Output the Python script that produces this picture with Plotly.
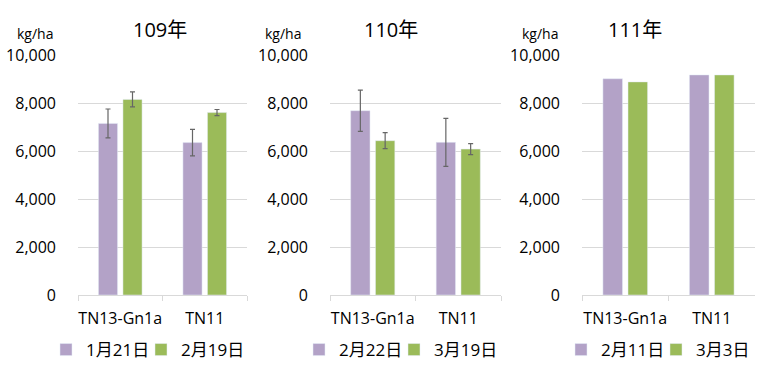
import plotly.graph_objects as go

categories = ["TN13-Gn1a", "TN11"]
years = ["109年", "110年", "111年"]
dates_a = ["1月21日", "2月22日", "2月11日"]
dates_b = ["2月19日", "3月19日", "3月3日"]
vals_a = [[7150, 6350], [7680, 6360], [9010, 9170]]
vals_b = [[8150, 7600], [6430, 6080], [8880, 9170]]
err_a = [[600, 550], [860, 1000], None]
err_b = [[310, 130], [335, 230], None]

PURPLE = "#b3a2c7"
GREEN = "#9bbb59"
FONT = "Open Sans, Noto Sans CJK TC, sans-serif"
W, H = 768, 372

xdom = [(78, 247), (330, 501), (582, 755)]
ytop, ybot = 55, 295
title_x = [160, 391, 635]
unit_x = [35, 283, 540]
legend_text_a = [87, 340, 602]
legend_text_b = [182, 435, 697]
TXT_OFF = 41

fig = go.Figure()
for i in range(3):
    xa = "x" if i == 0 else f"x{i+1}"
    ya = "y" if i == 0 else f"y{i+1}"
    lga = "legend" if i == 0 else f"legend{2*i+1}"
    lgb = f"legend{2*i+2}"
    ea = dict(type="data", array=err_a[i], color="#666666", thickness=1.2, width=2.5, visible=True) if err_a[i] else None
    eb = dict(type="data", array=err_b[i], color="#666666", thickness=1.2, width=2.5, visible=True) if err_b[i] else None
    fig.add_trace(go.Bar(x=categories, y=vals_a[i], name=dates_a[i], marker_color=PURPLE,
                         error_y=ea, xaxis=xa, yaxis=ya, legend=lga))
    fig.add_trace(go.Bar(x=categories, y=vals_b[i], name=dates_b[i], marker_color=GREEN,
                         error_y=eb, xaxis=xa, yaxis=ya, legend=lgb))

layout = dict(
    width=W, height=H, margin=dict(l=0, r=0, t=0, b=0, autoexpand=False),
    paper_bgcolor="white", plot_bgcolor="white",
    barmode="group", bargap=0.42, bargroupgap=0.22,
    font=dict(family=FONT, size=15, color="#000000"),
    showlegend=True,
)
annotations = []
for i in range(3):
    sfx = "" if i == 0 else str(i + 1)
    x0, x1 = xdom[i]
    layout["xaxis" + sfx] = dict(
        domain=[x0 / W, x1 / W], anchor="y" + sfx, showgrid=False,
        showline=True, linecolor="#d9d9d9", linewidth=1,
        ticks="outside", tickson="boundaries", ticklen=5, tickcolor="#d9d9d9",
        ticklabelstandoff=9,
        tickfont=dict(size=16), tickangle=0, automargin=False, fixedrange=True,
    )
    layout["yaxis" + sfx] = dict(
        domain=[(H - ybot) / H, (H - ytop) / H], anchor="x" + sfx,
        range=[0, 10000], dtick=2000, tickformat=",d",
        showgrid=True, gridcolor="#d9d9d9", gridwidth=1,
        zeroline=False, showline=False, ticks="", ticklabelstandoff=21,
        tickfont=dict(size=16), automargin=False, fixedrange=True,
    )
    for name, tx in ((("legend" if i == 0 else f"legend{2*i+1}"), legend_text_a[i]),
                     (f"legend{2*i+2}", legend_text_b[i])):
        layout[name] = dict(
            orientation="h", x=(tx - TXT_OFF) / W, xanchor="left",
            y=(H - 350) / H, yanchor="middle", font=dict(size=17),
            itemwidth=30, bgcolor="rgba(0,0,0,0)",
        )
    annotations.append(dict(text=years[i], x=title_x[i] / W, y=(H - 29) / H,
                            xref="paper", yref="paper", showarrow=False,
                            font=dict(size=20), xanchor="center", yanchor="middle"))
    annotations.append(dict(text="kg/ha", x=unit_x[i] / W, y=(H - 33) / H,
                            xref="paper", yref="paper", showarrow=False,
                            font=dict(size=14), xanchor="center", yanchor="middle"))
layout["annotations"] = annotations
fig.update_layout(**layout)
fig.write_html("out.html", config={"displayModeBar": False},
               post_script="document.body.style.margin='0';")
